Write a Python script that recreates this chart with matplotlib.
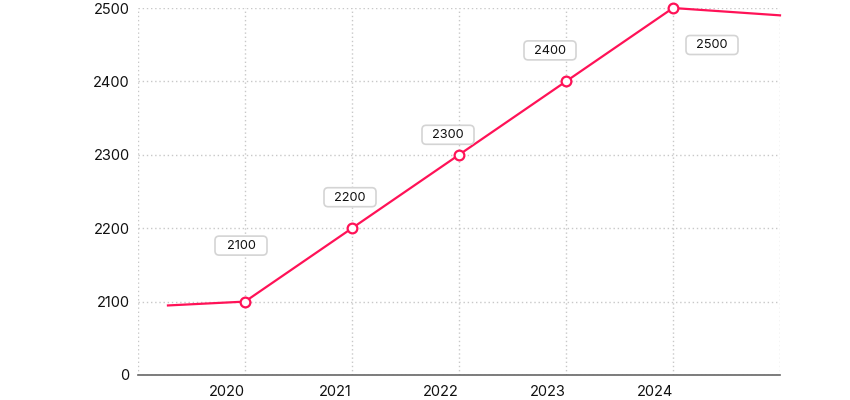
import numpy as np
import matplotlib.pyplot as plt
from matplotlib.offsetbox import AnnotationBbox, DrawingArea
from matplotlib.patches import FancyBboxPatch
from matplotlib.text import Text

plt.rcParams['font.family'] = ['Inter', 'DejaVu Sans']

# 데이터
years = [2020, 2021, 2022, 2023, 2024]
values = [2100, 2200, 2300, 2400, 2500]
point_labels = ['2100', '2200', '2300', '2400', '2500']
# 양 끝으로 이어지는 선
line_x = [2019.28, 2020, 2021, 2022, 2023, 2024, 2025]
line_y = [1990, 2100, 2200, 2300, 2400, 2500, 2490]
y_ticks = [0, 2100, 2200, 2300, 2400, 2500]

# 0~2100 구간을 압축한 축
def fwd(v):
    v = np.asarray(v, dtype=float)
    return np.where(v <= 2100, v / 2100.0, (v - 2000) / 100.0)

def inv(u):
    u = np.asarray(u, dtype=float)
    return np.where(u <= 1, u * 2100.0, u * 100.0 + 2000)

color = '#ff1257'
fig = plt.figure(figsize=(8.5, 4), dpi=100)
ax = fig.add_axes([138/850, 25/400, 642/850, 367/400])
ax.set_yscale('function', functions=(fwd, inv))
ax.set_xlim(2019, 2025)
ax.set_ylim(0, 2500)

ax.plot(line_x, line_y, color=color, linewidth=1.6, zorder=3, clip_on=False)
ax.plot(years, values, linestyle='none', marker='o', markersize=7,
        markerfacecolor='white', markeredgecolor=color, markeredgewidth=1.6,
        zorder=4, clip_on=False)

# 라벨 박스 (픽셀 오프셋 -> pt)
px = 0.72
offsets = [(-4, 56), (-2, 31), (-11, 20), (-16, 31), (39, -37)]
bw, bh = 52 * px, 19 * px
for x, y, t, (dx, dy) in zip(years, values, point_labels, offsets):
    da = DrawingArea(bw, bh, 0, 0, clip=False)
    da.add_artist(FancyBboxPatch((0, 0), bw, bh,
                                 boxstyle='round,pad=0,rounding_size=3',
                                 fc='white', ec='#d4d4d4', lw=1.2))
    da.add_artist(Text(bw / 2, bh / 2 - 0.3, t, ha='center', va='center',
                       fontsize=9.2, color='#111111', family=['Inter', 'DejaVu Sans']))
    ab = AnnotationBbox(da, (x, y), xybox=(dx * px, dy * px),
                        boxcoords='offset points', frameon=False,
                        box_alignment=(0.5, 0.5), pad=0, zorder=5)
    ax.add_artist(ab)

ax.set_xticks(years)
ax.set_yticks(y_ticks)
ax.tick_params(length=0, labelsize=10.5, colors='#111111')
ax.tick_params(axis='x', pad=7)
ax.tick_params(axis='y', pad=6)
for lab in ax.get_xticklabels():
    lab.set_horizontalalignment('right')

ax.grid(True, linestyle=(0, (1, 2)), color='#c8c8c8', linewidth=1)
for s in ['top', 'right', 'left']:
    ax.spines[s].set_visible(False)
ax.spines['bottom'].set_color('#666666')
ax.spines['bottom'].set_linewidth(1.2)
ax.axvline(2019, color='#c8c8c8', linestyle=(0, (1, 2)), linewidth=1)
ax.axvline(2025, color='#c8c8c8', linestyle=(0, (1, 2)), linewidth=1)

plt.savefig('out.png', dpi=100)
